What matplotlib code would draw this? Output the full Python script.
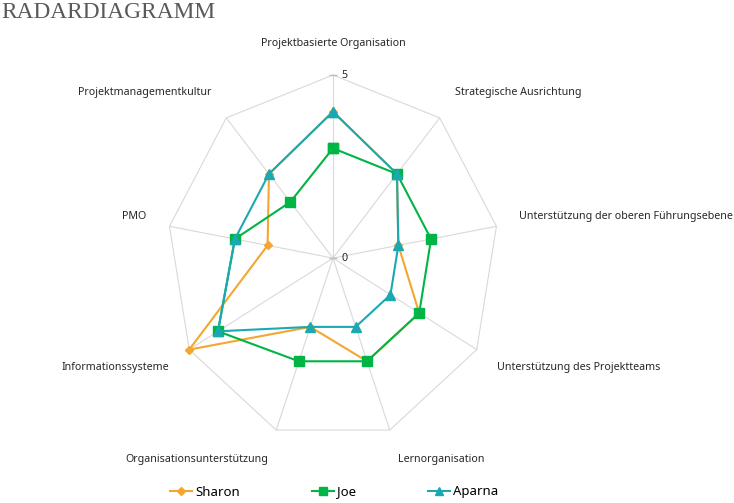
import numpy as np
import matplotlib
matplotlib.use("Agg")
import matplotlib.pyplot as plt

categories = [
    "Projektbasierte Organisation",
    "Strategische Ausrichtung",
    "Unterstützung der oberen Führungsebene",
    "Unterstützung des Projektteams",
    "Lernorganisation",
    "Organisationsunterstützung",
    "Informationssysteme",
    "PMO",
    "Projektmanagementkultur",
]
sharon = [4, 3, 2, 3, 3, 2, 5, 2, 3]
joe = [3, 3, 3, 3, 3, 3, 4, 3, 2]
aparna = [4, 3, 2, 2, 2, 2, 4, 3, 3]
series_names = ["Sharon", "Joe", "Aparna"]
r_max = 5

plt.rcParams["font.family"] = ["Noto Sans", "DejaVu Sans"]

fig = plt.figure(figsize=(7.34, 5.03), dpi=100)
ax = fig.add_axes([0, 0, 1, 1])
# chart is slightly squashed horizontally, so draw the radar on plain axes
ax.set_xlim(-10.03, 12.08)
ax.set_ylim(-6.69, 7.05)
ax.axis("off")

n = len(categories)
theta = np.arange(n) * 2 * np.pi / n
sx, sy = np.sin(theta), np.cos(theta)

grid_col = "#d9d9d9"
for k in range(n):
    ax.plot([0, r_max * sx[k]], [0, r_max * sy[k]], color=grid_col, lw=0.8, zorder=1)
ax.plot(np.append(r_max * sx, r_max * sx[0]), np.append(r_max * sy, r_max * sy[0]),
        color=grid_col, lw=0.8, zorder=1)

# value axis ticks
ax.plot([0, 0], [0, r_max], ls="none", marker="_", ms=6, color="#bfbfbf", zorder=2)
for v in (0, r_max):
    ax.annotate(str(v), (0, v), xytext=(6, 0), textcoords="offset points",
                ha="left", va="center", fontsize=7.7, color="#262626")

styles = [
    ("#f4a62f", "D", 4.5, sharon),
    ("#00b445", "s", 6.5, joe),
    ("#1aa9b1", "^", 7, aparna),
]
for name, (col, mk, ms, vals) in zip(series_names, styles):
    v = np.array(vals + vals[:1], dtype=float)
    ax.plot(v * np.append(sx, sx[0]), v * np.append(sy, sy[0]), color=col, lw=1.5,
            marker=mk, ms=ms, label=name, zorder=3)

r_lab = 5.7
for k, lab in enumerate(categories):
    if abs(sx[k]) < 0.1:
        ha = "center"
    elif sx[k] > 0:
        ha = "left"
    else:
        ha = "right"
    va = "bottom" if sy[k] > 0 else "top"
    ax.text(r_lab * sx[k], r_lab * sy[k], lab, ha=ha, va=va, fontsize=7.7, color="#262626")

fig.text(0.002, 1 - 13 / 503, "RADARDIAGRAMM", family="Liberation Serif", fontsize=16.8,
         color="#595959", ha="left", va="center")

fig.legend(loc="center", bbox_to_anchor=(334 / 734, 1 - 492 / 503), ncol=3, frameon=False,
           fontsize=9.5, columnspacing=5.45, handlelength=1.7, handletextpad=0.2,
           markerscale=0.8)

fig.savefig("out.png", dpi=100)
